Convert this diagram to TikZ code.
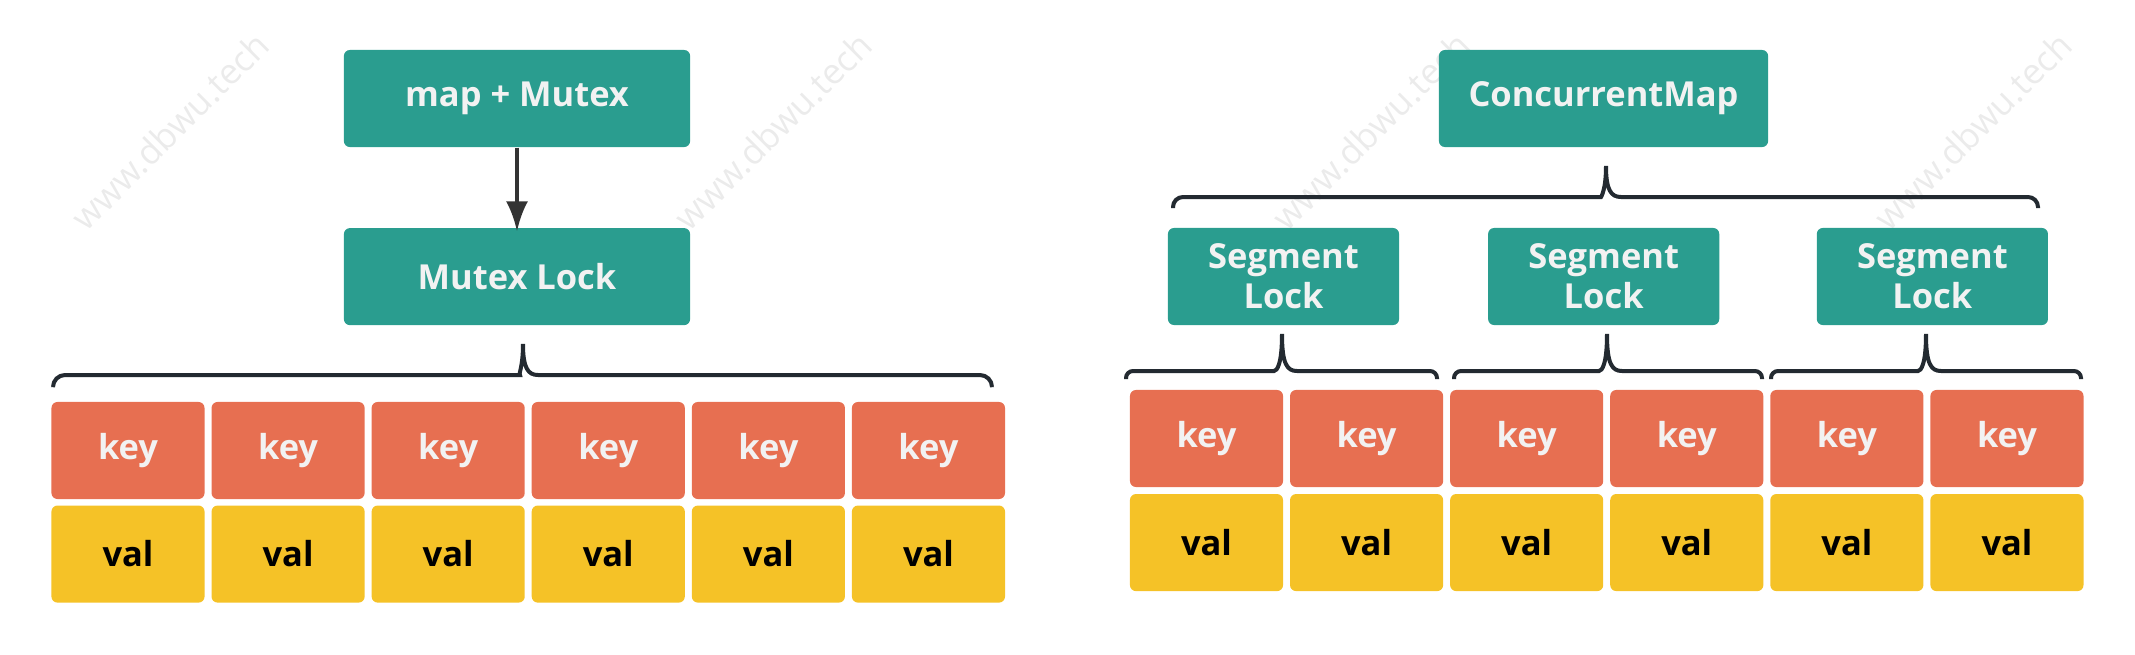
\documentclass[tikz,border=0pt]{standalone}
\usepackage{fontspec}
\setmainfont{Open Sans}
\usetikzlibrary{arrows.meta}
\definecolor{lockgreen}{HTML}{2A9D8F}
\definecolor{keyred}{HTML}{E76F51}
\definecolor{valyellow}{HTML}{F5C227}
\definecolor{bracegray}{HTML}{232A31}
\tikzstyle{lock} = [fill=lockgreen, rounded corners=0.06cm, text=white!95!black,
minimum height=0.97cm, align=center, font=\bfseries\fontsize{9.8}{11.4}\selectfont]
\tikzstyle{key} = [fill=keyred, rounded corners=0.06cm, text=white!95!black,
minimum width=1.53cm, minimum height=0.97cm, font=\bfseries\fontsize{9.8}{11.4}\selectfont]
\tikzstyle{val} = [key, fill=valyellow, text=black]
\tikzstyle{brace} = [draw=bracegray, line width=0.04cm]
\tikzstyle{wm} = [text=black!8, rotate=45, font=\fontsize{10}{12}\selectfont]

\begin{document}
\begin{tikzpicture}[x=0.01cm,y=0.01cm,node distance=1.6cm,>={Latex[length=0.3cm,width=0.22cm]}]
      \useasboundingbox (0,0) rectangle (2135,-654);
      % watermark
      \foreach \x in {170,773,1371,1973}
        \node[wm] (wm\x) at (\x,-131) {www.dbwu.tech};
      % map + Mutex
      \node [lock, minimum width=3.46cm] (mm) at (517,-98.5) {map + Mutex};
      \node [lock, minimum width=3.46cm] (ml) [below of=mm, node distance=1.78cm] {Mutex Lock};
      \node [key] (k1) at (128,-450.5) {key};
      \foreach \i [count=\j from 2] in {1,...,5}
        \node [key] (k\j) [right of=k\i] {key};
      \foreach \i in {1,...,6}
        \node [val] (v\i) [below of=k\i, node distance=1.035cm] {val};
      \draw[->, draw=black!80, line width=0.04cm, shorten >=-0.04cm] (mm) -- (ml);
      \draw[brace] (53,-387) {[rounded corners=0.12cm] |- (508,-375)}
        .. controls (518,-375) and (523,-368) .. (523,-344)
        .. controls (523,-368) and (528,-375) .. (538,-375)
        {[rounded corners=0.12cm] -| (992,-387)};
      % ConcurrentMap
      \node [lock, minimum width=3.29cm] (cm) at (1603.5,-98.5) {ConcurrentMap};
      \node [lock, minimum width=2.31cm] (s1) at (1283.5,-276.5) {Segment\\Lock};
      \node [lock, minimum width=2.31cm] (s2) [right of=s1, node distance=3.2cm] {Segment\\Lock};
      \node [lock, minimum width=2.31cm] (s3) [right of=s2, node distance=3.285cm] {Segment\\Lock};
      \node [key] (rk1) at (1206.5,-438.5) {key};
      \foreach \i [count=\j from 2] in {1,...,5}
        \node [key] (rk\j) [right of=rk\i] {key};
      \foreach \i in {1,...,6}
        \node [val] (rv\i) [below of=rk\i, node distance=1.04cm] {val};
      \draw[brace] (1173,-208) {[rounded corners=0.1cm] |- (1591,-197)}
        .. controls (1601,-197) and (1606,-190) .. (1606,-166)
        .. controls (1606,-190) and (1611,-197) .. (1621,-197)
        {[rounded corners=0.1cm] -| (2038,-208)};
      \foreach \lx/\tx/\rx in {1126/1282/1437,1454/1607/1762,1771/1926/2081}
        \draw[brace] (\lx,-379) {[rounded corners=0.07cm] |- (\tx-15,-371)}
          .. controls (\tx-5,-371) and (\tx,-364) .. (\tx,-334)
          .. controls (\tx,-364) and (\tx+5,-371) .. (\tx+15,-371)
          {[rounded corners=0.07cm] -| (\rx,-379)};
\end{tikzpicture}
\end{document}
